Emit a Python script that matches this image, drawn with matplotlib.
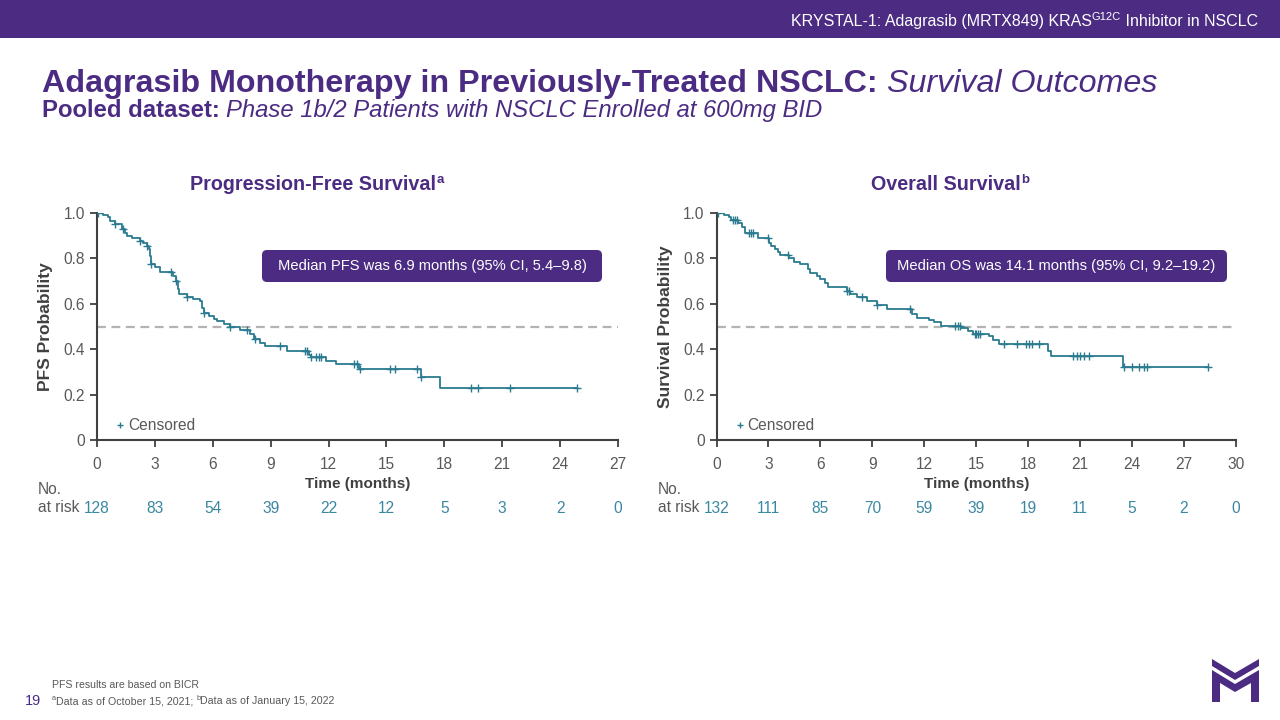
import numpy as np
import matplotlib
matplotlib.use("Agg")
import matplotlib.pyplot as plt
from matplotlib.patches import Rectangle, FancyBboxPatch, Polygon
from matplotlib.transforms import blended_transform_factory

plt.rcParams['font.family'] = ['Liberation Sans', 'DejaVu Sans']

PURPLE = '#4b2c82'
TEAL = '#2b7b90'
TEAL_TXT = '#3a88a0'
GREY = '#595959'
DARK = '#404040'

# ---- data ----
pfs_t = [0.31, 0.57, 0.66, 0.92, 1.27, 1.44, 1.53, 1.79, 2.22, 2.40, 2.57, 2.71, 2.74, 2.78, 3.00,
         3.27, 3.96, 4.10, 4.22, 4.27, 4.65, 5.00, 5.35, 5.44, 5.52, 5.78, 6.04, 6.22, 6.56, 6.90,
         7.40, 7.95, 8.13, 8.47, 8.73, 9.86, 10.99, 11.08, 11.86, 12.38, 13.60, 16.77, 17.76]
pfs_s = [0.991, 0.981, 0.966, 0.951, 0.929, 0.914, 0.900, 0.888, 0.878, 0.866, 0.853, 0.841, 0.811, 0.774, 0.760,
         0.740, 0.723, 0.701, 0.664, 0.642, 0.630, 0.619, 0.612, 0.583, 0.560, 0.546, 0.534, 0.524, 0.513, 0.496,
         0.486, 0.465, 0.443, 0.428, 0.416, 0.391, 0.376, 0.364, 0.347, 0.335, 0.314, 0.276, 0.229]
pfs_end = 24.9
pfs_cens = [0.05, 0.92, 1.36, 2.22, 2.6, 2.78, 3.82, 4.1, 4.65, 5.52, 6.91, 7.78, 8.2, 9.48, 10.8, 10.9,
            11.1, 11.34, 11.5, 11.6, 13.34, 13.5, 13.65, 15.16, 15.45, 16.6, 16.8, 19.36, 19.76, 21.4, 24.9]
pfs_ticks = [0, 3, 6, 9, 12, 15, 18, 21, 24, 27]
pfs_risk = [128, 83, 54, 39, 22, 12, 5, 3, 2, 0]

os_t = [0.45, 0.74, 0.84, 1.25, 1.50, 1.65, 2.40, 3.06, 3.16, 3.35, 3.55, 3.65, 4.20, 4.50, 4.85,
        5.29, 5.39, 5.78, 5.97, 6.26, 6.46, 7.52, 7.71, 8.10, 8.68, 9.27, 9.85, 11.30, 11.59, 12.30,
        12.56, 12.95, 14.10, 14.50, 14.80, 15.76, 15.95, 16.30, 19.15, 19.30, 23.50]
os_s = [0.991, 0.981, 0.971, 0.955, 0.937, 0.914, 0.888, 0.870, 0.855, 0.841, 0.826, 0.814, 0.800, 0.785, 0.774,
        0.752, 0.737, 0.723, 0.708, 0.693, 0.676, 0.656, 0.642, 0.630, 0.612, 0.593, 0.575, 0.556, 0.538, 0.528,
        0.520, 0.504, 0.494, 0.479, 0.469, 0.457, 0.440, 0.425, 0.390, 0.369, 0.320]
os_end = 28.4
os_cens = [0.1, 0.93, 1.05, 1.2, 1.86, 2.0, 2.13, 2.97, 4.13, 7.56, 7.65, 8.39, 9.27, 11.2, 13.8, 13.95,
           14.05, 14.9, 14.98, 15.08, 15.2, 16.6, 17.35, 17.9, 18.05, 18.24, 18.6, 20.6, 20.8, 21.0,
           21.25, 21.5, 23.56, 23.98, 24.37, 24.66, 24.85, 28.4]
os_ticks = [0, 3, 6, 9, 12, 15, 18, 21, 24, 27, 30]
os_risk = [132, 111, 85, 70, 59, 39, 19, 11, 5, 2, 0]

y_ticks = [0, 0.2, 0.4, 0.6, 0.8, 1.0]
y_labels = ['0', '0.2', '0.4', '0.6', '0.8', '1.0']

fig = plt.figure(figsize=(12.8, 7.2), dpi=100)
renderer = fig.canvas.get_renderer()

# background axes in pixel coordinates
bg = fig.add_axes([0, 0, 1, 1], zorder=0)
bg.set_xlim(0, 1280)
bg.set_ylim(720, 0)
bg.axis('off')


def runs(x, y, parts, ha='left', **common):
    # lay out text pieces one after another, optional superscripts
    arts = []
    cur = x
    for s, kw in parts:
        kw = dict(kw)
        dy = kw.pop('dy', 0)
        opts = dict(common)
        opts.update(kw)
        t = bg.text(cur, y - dy, s, va='baseline', ha='left', **opts)
        cur = t.get_window_extent(renderer).x1
        arts.append(t)
    shift = {'left': 0, 'center': (cur - x) / 2, 'right': cur - x}[ha]
    for t in arts:
        px, py = t.get_position()
        t.set_position((px - shift, py))
    return arts


# header bar
bg.add_patch(Rectangle((0, 0), 1280, 38, color=PURPLE, lw=0))
runs(1258, 26, [("KRYSTAL-1: Adagrasib (MRTX849) KRAS", {}),
                ("G12C", {'fontsize': 8, 'dy': 6}),
                (" Inhibitor in NSCLC", {})],
     ha='right', color='white', fontsize=11.5)

runs(42, 92, [("Adagrasib Monotherapy in Previously-Treated NSCLC: ", {'fontweight': 'bold'}),
              ("Survival Outcomes", {'fontstyle': 'italic'})],
     color=PURPLE, fontsize=23.2)
runs(42, 117, [("Pooled dataset: ", {'fontweight': 'bold'}),
               ("Phase 1b/2 Patients with NSCLC Enrolled at 600mg BID", {'fontstyle': 'italic'})],
     color=PURPLE, fontsize=17.2)

runs(317, 190, [("Progression-Free Survival", {}), ("a", {'fontsize': 9.5, 'dy': 7})],
     ha='center', color=PURPLE, fontsize=14.2, fontweight='bold')
runs(950, 190, [("Overall Survival", {}), ("b", {'fontsize': 9.5, 'dy': 7})],
     ha='center', color=PURPLE, fontsize=14.2, fontweight='bold')


def km_panel(left, right, xmax, t, s, end, cens, ticks, risk, ylabel, box_x, box_text):
    top, bottom = 213, 440
    ax = fig.add_axes([left / 1280, (720 - bottom) / 720, (right - left) / 1280, (bottom - top) / 720], zorder=2)
    ax.patch.set_alpha(0)
    xs = np.r_[0, t, end]
    ys = np.r_[1.0, s, s[-1]]
    ax.step(xs, ys, where='post', color=TEAL, lw=1.3, zorder=3)
    cy = np.r_[1.0, s][np.searchsorted(t, cens, side='right')]
    ax.plot(cens, cy, ls='none', marker='+', ms=5.5, mew=1, color=TEAL, zorder=4)
    ax.axhline(0.5, color='#b3b3b3', lw=1.6, ls=(0, (4, 2.5)), zorder=1)
    ax.set_xlim(0, xmax)
    ax.set_ylim(0, 1.0)
    ax.set_xticks(ticks)
    ax.set_yticks(y_ticks)
    ax.set_yticklabels(y_labels)
    for sp in ['top', 'right']:
        ax.spines[sp].set_visible(False)
    for sp in ['left', 'bottom']:
        ax.spines[sp].set_color(DARK)
        ax.spines[sp].set_linewidth(1.5)
    ax.tick_params(axis='both', colors=DARK, labelcolor=GREY, labelsize=11.2,
                   length=5, width=1.3, direction='out')
    ax.tick_params(axis='x', pad=7)
    ax.set_xlabel('Time (months)', fontsize=11, fontweight='bold', color=DARK)
    ax.xaxis.set_label_coords(0.5, -0.165)
    ax.set_ylabel(ylabel, fontsize=12.5, fontweight='bold', color=DARK)
    ax.yaxis.set_label_coords(-0.084, 0.5)
    # censored legend
    ax.plot([0.045], [0.066], transform=ax.transAxes, marker='+', ms=5, mew=1, color=TEAL, clip_on=False)
    ax.text(0.06, 0.066, 'Censored', transform=ax.transAxes, fontsize=11.2, color=GREY, va='center')
    # numbers at risk
    tr = blended_transform_factory(ax.transData, ax.transAxes)
    for x, n in zip(ticks, risk):
        ax.text(x, -0.30, str(n), transform=tr, ha='center', va='center', fontsize=11.2, color=TEAL_TXT)
    bg.text(left - 59, 490, 'No.', fontsize=11.2, color=GREY, va='center')
    bg.text(left - 59, 508, 'at risk', fontsize=11.2, color=GREY, va='center')
    # median box
    bx0, bx1 = box_x
    bg.add_patch(FancyBboxPatch((bx0 + 5, 255), bx1 - bx0 - 10, 22,
                                boxstyle='round,pad=5,rounding_size=5', fc=PURPLE, ec='none', zorder=1))
    bg.text((bx0 + bx1) / 2, 266, box_text, ha='center', va='center', color='white', fontsize=10.6, zorder=2)
    return ax


km_panel(97, 618, 27, pfs_t, pfs_s, pfs_end, pfs_cens, pfs_ticks, pfs_risk,
         'PFS Probability', (262, 602), 'Median PFS was 6.9 months (95% CI, 5.4\u20139.8)')
km_panel(716.5, 1236, 30, os_t, os_s, os_end, os_cens, os_ticks, os_risk,
         'Survival Probability', (886, 1227), 'Median OS was 14.1 months (95% CI, 9.2\u201319.2)')

# footer
bg.text(52, 688, 'PFS results are based on BICR', fontsize=7.6, color=GREY, va='baseline')
runs(52, 704, [("a", {'fontsize': 5.3, 'dy': 4}), ("Data as of October 15, 2021; ", {}),
               ("b", {'fontsize': 5.3, 'dy': 4}), ("Data as of January 15, 2022", {})],
     fontsize=7.7, color=GREY)
bg.text(25, 705, '19', fontsize=10.5, color=PURPLE, va='baseline')

# logo
bg.add_patch(Polygon([(1212, 659), (1235, 673), (1259, 659), (1259, 666), (1235, 680), (1212, 666)],
                     closed=True, fc=PURPLE, ec='none'))
bg.add_patch(Polygon([(1212, 670), (1235, 684), (1259, 670), (1259, 702), (1251, 702), (1251, 683),
                      (1235, 692), (1220, 683), (1220, 702), (1212, 702)],
                     closed=True, fc=PURPLE, ec='none'))

fig.savefig('out.png', dpi=100)
